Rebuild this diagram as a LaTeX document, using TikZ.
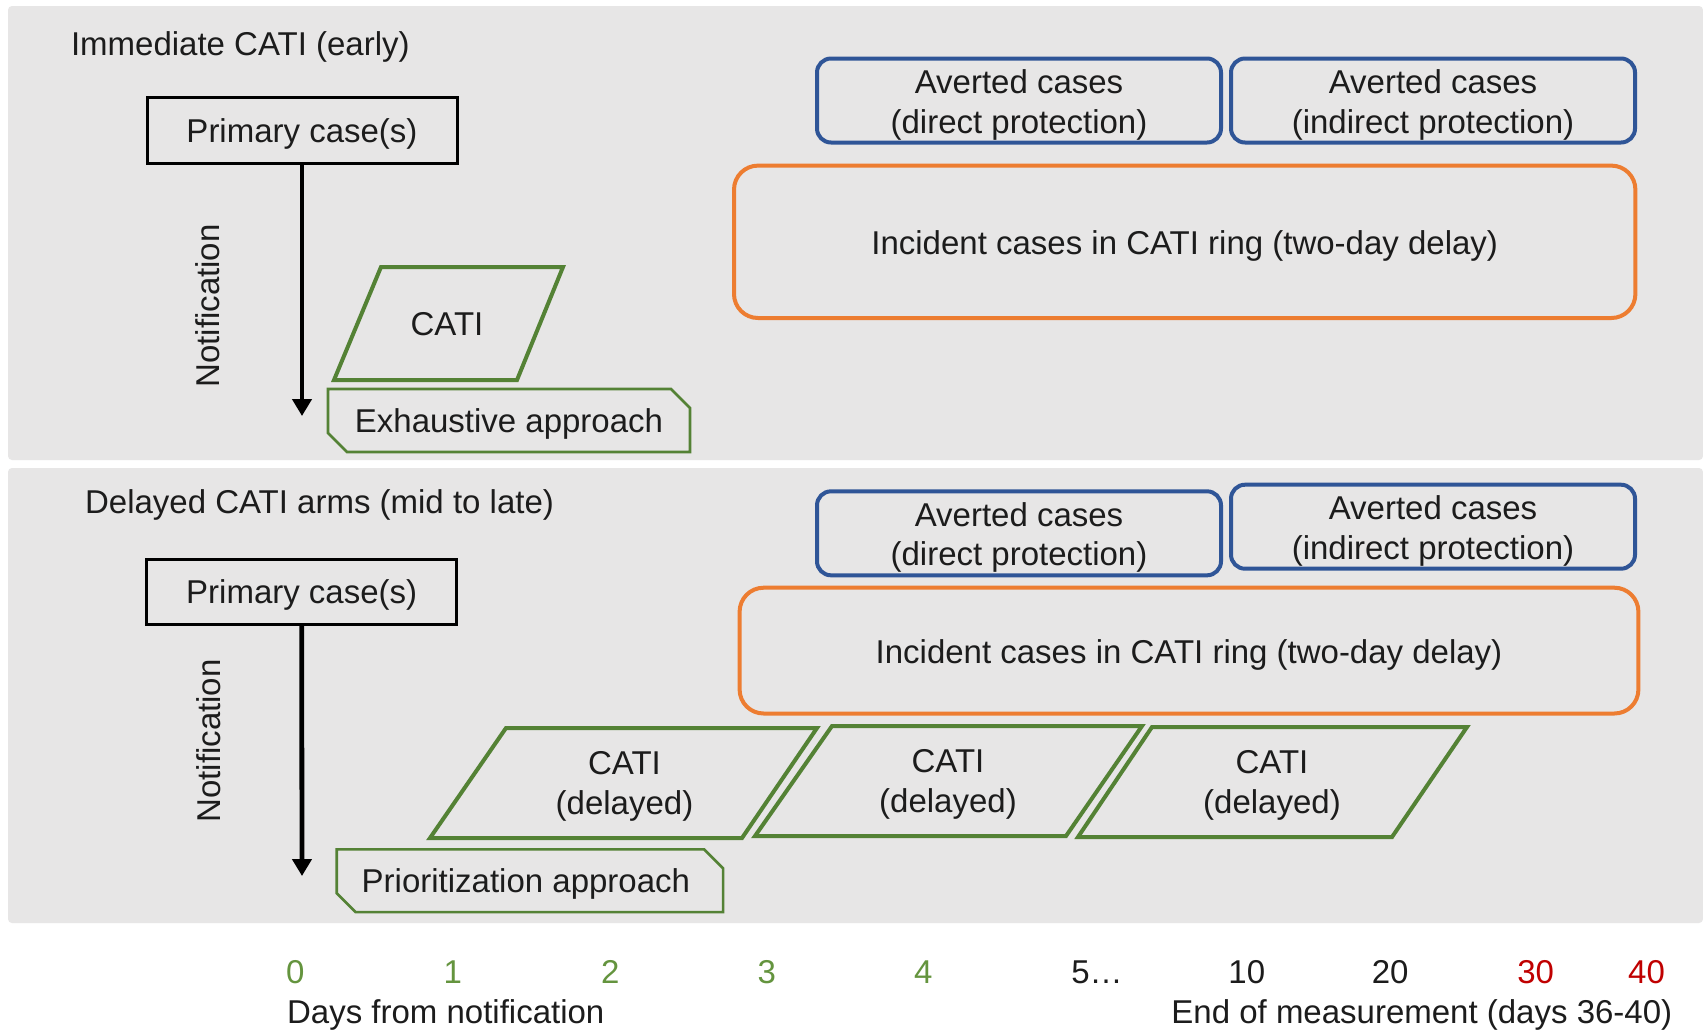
\documentclass[tikz,border=0pt]{standalone}
\usepackage{fontspec}
\setmainfont{Liberation Sans}
\usetikzlibrary{arrows.meta,shapes.misc}
\definecolor{panel}{RGB}{231,230,230}
\definecolor{cgreen}{RGB}{84,130,53}
\definecolor{cblue}{RGB}{47,85,151}
\definecolor{corange}{RGB}{237,125,49}
\definecolor{cred}{RGB}{192,0,0}
\definecolor{cnum}{RGB}{100,148,62}
\definecolor{ctext}{RGB}{28,28,28}
\newcommand{\lowtext}[1]{\raisebox{-1.7pt}[\height][\depth]{#1}}
\begin{document}
\begin{tikzpicture}[x=0.5pt,y=-0.5pt,
  every node/.style={font=\fontsize{16.5}{19.8}\selectfont, text=ctext, inner sep=0pt},
  panelbox/.style={fill=panel, draw=none, rounded corners=2pt},
  primbox/.style={draw=black, line width=1.5pt, minimum width=155pt, minimum height=33pt},
  notif/.style={rotate=90},
  notifarrow/.style={draw=black, line width=2.4pt, -{Triangle[width=9.5pt,length=8.5pt]}},
  catibox/.style={draw=cgreen, line width=2pt, line join=miter},
  approach/.style={draw=cgreen, line width=1.3pt, chamfered rectangle,
    chamfered rectangle corners={north east, south west},
    chamfered rectangle xsep=5pt, chamfered rectangle ysep=4.5pt},
  avert/.style={draw=cblue, line width=2pt, rounded corners=7pt,
    minimum width=202pt, minimum height=42pt},
  incident/.style={draw=corange, line width=2pt, rounded corners=12pt},
  twoline/.style={align=center, font=\fontsize{16.5}{19.8}\selectfont},
  daynum/.style={text=cnum},
  endnum/.style={text=cred},
  plainnum/.style={text=ctext}
]
\useasboundingbox[fill=white] (0,0) rectangle (1703,1030);

% panels
\fill[panelbox] (8,6) rectangle (1703,460);
\fill[panelbox] (8,468) rectangle (1703,923);

% ---------- top panel ----------
\node[anchor=west] (t1) at (70.6,46.8) {Immediate CATI (early)};
\node[primbox] (p1) at (302,130.6) {};
\node (p1t) at ([yshift=-1.7pt]p1.center) {Primary case(s)};
\coordinate (a1) at (302,416);
\draw[notifarrow] (p1.south) -- (a1);
\node[notif] (n1) at (208,306) {Notification};

\draw[catibox] (334,380) -- (517,380) -- (563,267) -- (381,267) -- cycle;
\node (c1) at (447,324.5) {CATI};
\node[approach, minimum width=181pt, minimum height=31.5pt] (e1) at (509,420.5) {\lowtext{Exhaustive approach}};

\node[avert] (b1) at (1019,100.5) {};
\node[twoline] (b1t) at ([yshift=-2.1pt]b1.center) {Averted cases\\(direct protection)};
\node[avert] (b2) at (1433,100.5) {};
\node[twoline] (b2t) at ([yshift=-2.1pt]b2.center) {Averted cases\\(indirect protection)};
\node[incident, minimum width=450.7pt, minimum height=76.2pt] (o1) at (1184.7,241.8) {};
\node (o1t) at ([yshift=-2.2pt]o1.center) {Incident cases in CATI ring (two-day delay)};

% ---------- bottom panel ----------
\node[anchor=west] (t2) at (84.7,505.3) {Delayed CATI arms (mid to late)};
\node[primbox, minimum height=32.4pt] (p2) at (301.7,591.7) {};
\node (p2t) at ([yshift=-1.7pt]p2.center) {Primary case(s)};
\coordinate (a2) at (302,876);
\draw[notifarrow] (p2.south) -- (a2);
\node[notif] (n2) at (208.5,741) {Notification};

\draw[catibox] (430,838) -- (742,838) -- (817,728) -- (506,728) -- cycle;
\node[twoline] (d1) at (624.5,786.2) {CATI\\(delayed)};
\draw[catibox] (755,836) -- (1066,836) -- (1142,726) -- (832,726) -- cycle;
\node[twoline] (d2) at (948,784.2) {CATI\\(delayed)};
\draw[catibox] (1078,837) -- (1392,837) -- (1467,727) -- (1152,727) -- cycle;
\node[twoline] (d3) at (1272,785.2) {CATI\\(delayed)};

\node[approach, minimum width=193.2pt, minimum height=31.4pt] (e2) at (529.9,880.7) {\lowtext{Prioritization approach\hspace{4pt}}};

\node[avert] (b3) at (1019,533.3) {};
\node[twoline] (b3t) at ([yshift=-2.1pt]b3.center) {Averted cases\\(direct protection)};
\node[avert] (b4) at (1433,526.7) {};
\node[twoline] (b4t) at ([yshift=-2.2pt]b4.center) {Averted cases\\(indirect protection)};
\node[incident, minimum width=449.4pt, minimum height=62.9pt] (o2) at (1189,650.6) {};
\node (o2t) at ([yshift=-2.1pt]o2.center) {Incident cases in CATI ring (two-day delay)};

% ---------- time axis ----------
\node[daynum] (x0) at (295.4,972) {0};
\node[daynum] (x1) at (452.9,972) {1};
\node[daynum] (x2) at (610.4,972) {2};
\node[daynum] (x3) at (766.8,972) {3};
\node[daynum] (x4) at (923.2,972) {4};
\node[plainnum] (x5) at (1097,972) {5…};
\node[plainnum] (x10) at (1246.8,972) {10};
\node[plainnum] (x20) at (1390.2,972) {20};
\node[endnum] (x30) at (1535.7,972) {30};
\node[endnum] (x40) at (1646.5,972) {40};
\node[anchor=west] (dl) at (286.7,1015.3) {Days from notification};
\node[anchor=east] (el) at (1672.6,1015.3) {End of measurement (days 36-40)};
\end{tikzpicture}
\end{document}
